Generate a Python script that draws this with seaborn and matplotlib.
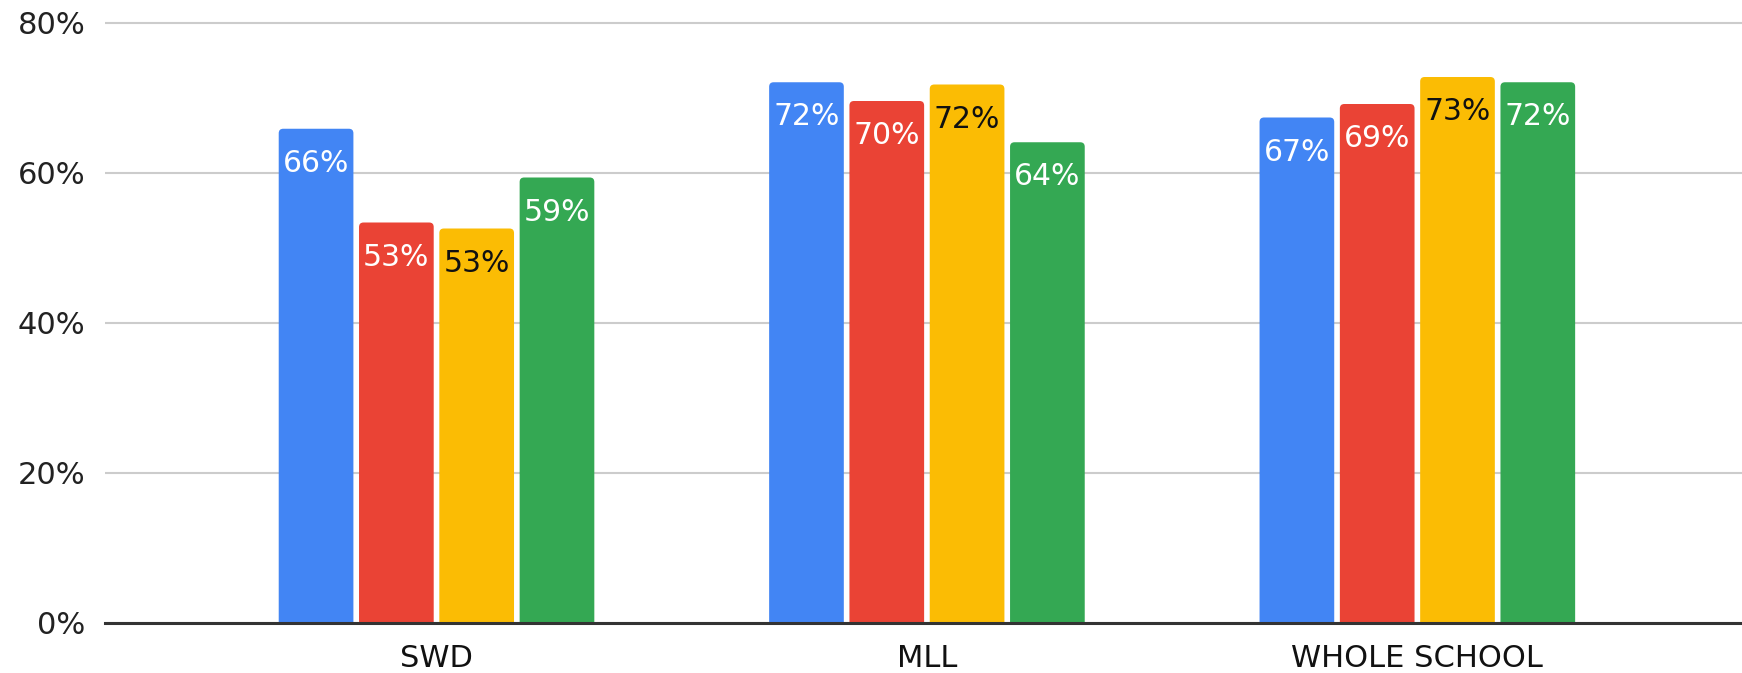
import matplotlib
matplotlib.use("Agg")
import matplotlib.pyplot as plt
from matplotlib.patches import FancyBboxPatch
from matplotlib.ticker import FuncFormatter
import pandas as pd
import seaborn as sns

# Chart data
groups = ["SWD", "MLL", "WHOLE SCHOOL"]
series = ["Series 1", "Series 2", "Series 3", "Series 4"]
swd = [65.9, 53.4, 52.6, 59.4]
mll = [72.1, 69.6, 71.8, 64.1]
whole_school = [67.4, 69.2, 72.8, 72.1]
yticks = [0, 20, 40, 60, 80]

colors = ["#4285F4", "#EA4335", "#FBBC04", "#34A853"]
label_colors = ["white", "white", "#111111", "white"]

rows = []
for g, vals in zip(groups, [swd, mll, whole_school]):
    for s, v in zip(series, vals):
        rows.append({"group": g, "series": s, "value": v})
df = pd.DataFrame(rows)

sns.set_theme(style="white")
plt.rcParams["font.family"] = ["DejaVu Sans"]

W, H, DPI = 1742, 673, 100
XMIN, XMAX, YMAX = -0.676, 2.662, 80.3
fig = plt.figure(figsize=(W / DPI, H / DPI), dpi=DPI)
ax = fig.add_axes([105 / W, 1 - 623 / H, 1 - 105 / W, (623 - 20.75) / H])

sns.barplot(data=df, x="group", y="value", hue="series", order=groups,
            hue_order=series, palette=colors, width=0.655, gap=0.07,
            saturation=1, legend=False, ax=ax)

ax.set_xlim(XMIN, XMAX)
ax.set_ylim(0, YMAX)
ax.set_yticks(yticks)
ax.yaxis.set_major_formatter(FuncFormatter(lambda v, _: f"{v:.0f}%"))
ax.set_xlabel("")
ax.set_ylabel("")

ax.grid(axis="y", color="#cccccc", linewidth=1.5)
ax.grid(axis="x", visible=False)
ax.set_axisbelow(True)
for side in ["top", "right", "left"]:
    ax.spines[side].set_visible(False)
ax.spines["bottom"].set_color("#333333")
ax.spines["bottom"].set_linewidth(2.2)
ax.spines["bottom"].set_zorder(5)

ax.tick_params(axis="y", length=0, pad=14, labelsize=22, labelcolor="#222222")
ax.tick_params(axis="x", length=0, pad=15, labelsize=22, labelcolor="#111111")

# Rounded top corners: swap each bar for a rounded box extending below the baseline
px_per_x = ax.get_position().width * W / (XMAX - XMIN)
px_per_y = ax.get_position().height * H / YMAX
aspect = px_per_x / px_per_y
radius = 4.5 / px_per_x

for ci, container in enumerate(ax.containers):
    vals = df[df["series"] == series[ci]].set_index("group").loc[groups, "value"].tolist()
    for rect, v in zip(container.patches, vals):
        x, w, h = rect.get_x(), rect.get_width(), rect.get_height()
        fc = rect.get_facecolor()
        rect.set_visible(False)
        box = FancyBboxPatch((x, -2), w, h + 2,
                             boxstyle=f"round,pad=0,rounding_size={radius}",
                             mutation_aspect=aspect, facecolor=fc,
                             edgecolor="none", zorder=3)
        ax.add_patch(box)
        ax.annotate(f"{v:.0f}%", xy=(x + w / 2, h), xytext=(0, -25),
                    textcoords="offset points", ha="center", va="center",
                    fontsize=21.5, color=label_colors[ci], zorder=6)

fig.savefig("out.png", dpi=DPI)
